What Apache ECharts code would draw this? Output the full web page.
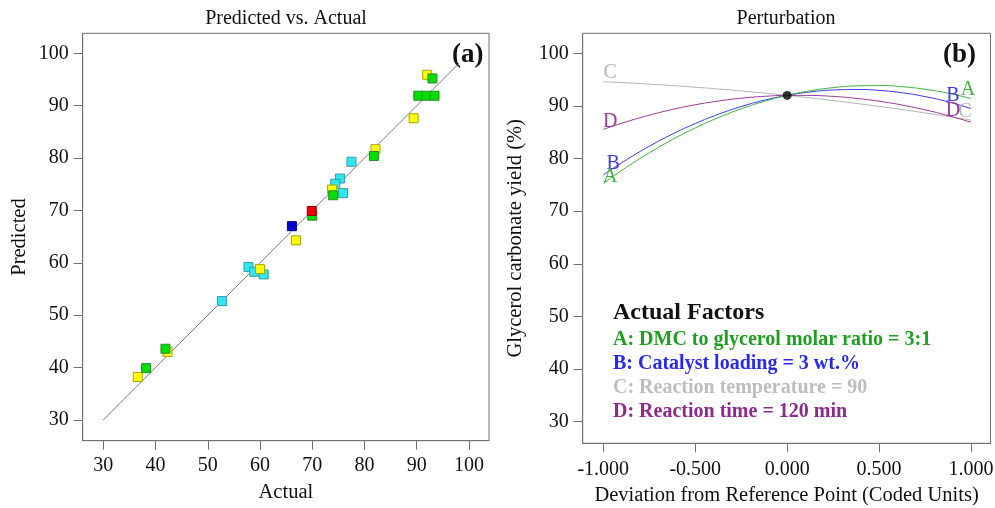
<!DOCTYPE html>
<html lang="en">
<head>
    <meta charset="utf-8">
    <title>Predicted vs. Actual / Perturbation</title>
    <script src="https://cdn.jsdelivr.net/npm/echarts@6/dist/echarts.min.js"></script>
    <style>
        html, body { margin: 0; padding: 0; background: #fff; }
        #main { width: 995px; height: 508px; }
    </style>
</head>
<body>
<div id="main"></div>
<script type="text/javascript">
// ---- data ----
// (a) predicted vs actual, grouped by point colour
var yellowPts = [[92.0, 95.9], [89.4, 87.6], [82.1, 81.7], [73.8, 74.0], [66.9, 64.3], [60.0, 58.8], [42.3, 43.0], [36.6, 38.2]];
var greenPts  = [[93.0, 95.2], [90.3, 91.9], [91.8, 91.9], [93.4, 91.9], [81.8, 80.4], [74.0, 72.9], [70.0, 69.0], [41.9, 43.6], [38.2, 39.9]];
var cyanPts   = [[77.5, 79.3], [75.3, 76.1], [74.4, 75.1], [75.9, 73.3], [57.8, 59.2], [58.9, 58.3], [60.7, 57.8], [52.7, 52.7]];
var bluePts   = [[66.1, 67.0]];
var redPts    = [[69.9, 69.9]];
var diagX     = [30, 98.2];   // y = x reference line
var axisTicksA = [30, 40, 50, 60, 70, 80, 90, 100];

// (b) perturbation curves
var coded  = [-1, -0.875, -0.75, -0.625, -0.5, -0.375, -0.25, -0.125, 0, 0.125, 0.25, 0.375, 0.5, 0.625, 0.75, 0.875, 1];
var curveA = [75.3, 78.33, 81.09, 83.59, 85.81, 87.77, 89.45, 90.86, 92.0, 92.87, 93.47, 93.80, 93.87, 93.65, 93.17, 92.42, 91.4];
var curveB = [76.9, 79.75, 82.33, 84.63, 86.65, 88.40, 89.88, 91.08, 92.0, 92.65, 93.03, 93.13, 92.95, 92.5, 91.78, 90.78, 89.5];
var curveC = [94.6, 94.39, 94.15, 93.87, 93.56, 93.22, 92.85, 92.44, 92.0, 91.53, 91.02, 90.48, 89.91, 89.31, 88.67, 88.0, 87.3];
var curveD = [85.54, 86.98, 88.24, 89.32, 90.22, 90.93, 91.47, 91.82, 92.0, 91.99, 91.81, 91.44, 90.9, 90.17, 89.26, 88.17, 86.9];
var refPoint = [0, 92];
var codedTicks = [-1, -0.5, 0, 0.5, 1];
var yieldTicks = [30, 40, 50, 60, 70, 80, 90, 100];

var factorLines = [
    'A: DMC to glycerol molar ratio = 3:1',
    'B: Catalyst loading = 3 wt.%',
    'C: Reaction temperature = 90',
    'D: Reaction time = 120 min'
];

var SERIF = '"Liberation Serif", "Times New Roman", serif';
var AXIS_COL = '#707070';

function axisBase(ticks, fmt) {
    return {
        axisLine: { show: true, onZero: false, lineStyle: { color: AXIS_COL, width: 1 } },
        axisTick: { show: true, inside: false, length: 9, customValues: ticks, lineStyle: { color: AXIS_COL } },
        axisLabel: { customValues: ticks, color: '#111', fontFamily: SERIF, fontSize: 20, formatter: fmt },
        splitLine: { show: false },
        nameTextStyle: { color: '#111', fontFamily: SERIF, fontSize: 20.5 }
    };
}

function withLabels(xs, ys, letter, first, last) {
    var out = [];
    for (var i = 0; i < xs.length; i++) {
        var item = { value: [xs[i], ys[i]] };
        if (i === 0 && first) {
            item.label = { show: true, formatter: letter, position: 'inside', offset: first };
        } else if (i === xs.length - 1 && last) {
            item.label = { show: true, formatter: letter, position: 'inside', offset: last };
        }
        out.push(item);
    }
    return out;
}

function curve(name, ys, color, first, last) {
    return {
        name: name, type: 'line', xAxisIndex: 1, yAxisIndex: 1,
        smooth: true, symbol: 'circle', symbolSize: 0, showSymbol: true,
        lineStyle: { color: color, width: 1 },
        itemStyle: { color: color },
        label: { color: color, fontFamily: SERIF, fontSize: 20, align: 'center', verticalAlign: 'middle' },
        emphasis: { disabled: true },
        data: withLabels(coded, ys, name, first, last),
        z: 3
    };
}

function scatter(pts, fill, border, z) {
    return {
        type: 'scatter', xAxisIndex: 0, yAxisIndex: 0,
        symbol: 'rect', symbolSize: 9,
        itemStyle: { color: fill, borderColor: border, borderWidth: 1, opacity: 1 },
        data: pts, z: z
    };
}

var chart = echarts.init(document.getElementById('main'), null, { renderer: 'canvas' });

var xA = axisBase(axisTicksA, function (v) { return v; });
xA.gridIndex = 0; xA.type = 'value'; xA.min = 26.06; xA.max = 103.83;
xA.name = 'Actual'; xA.nameLocation = 'middle'; xA.nameGap = 41;
xA.axisLabel.margin = 15;

var yA = axisBase(axisTicksA, function (v) { return v; });
yA.gridIndex = 0; yA.type = 'value'; yA.min = 26.05; yA.max = 103.82;
yA.name = 'Predicted'; yA.nameLocation = 'middle'; yA.nameGap = 53;
yA.axisLabel.margin = 14;

var xB = axisBase(codedTicks, function (v) { return v.toFixed(3); });
xB.gridIndex = 1; xB.type = 'value'; xB.min = -1.112; xB.max = 1.106;
xB.name = 'Deviation from Reference Point (Coded Units)'; xB.nameLocation = 'middle'; xB.nameGap = 42;
xB.axisLabel.margin = 16;

var yB = axisBase(yieldTicks, function (v) { return v; });
yB.gridIndex = 1; yB.type = 'value'; yB.min = 25.9; yB.max = 103.8;
yB.name = 'Glycerol carbonate yield (%)'; yB.nameLocation = 'middle'; yB.nameGap = 57;
yB.axisLabel.margin = 14;

var graphics = [
    { type: 'text', x: 286, y: 19, style: { text: 'Predicted vs. Actual', font: '20px ' + SERIF, fill: '#111', textAlign: 'center', textVerticalAlign: 'middle' } },
    { type: 'text', x: 786, y: 19, style: { text: 'Perturbation', font: '20px ' + SERIF, fill: '#111', textAlign: 'center', textVerticalAlign: 'middle' } },
    { type: 'text', x: 452, y: 55, style: { text: '(a)', font: 'bold 27px ' + SERIF, fill: '#111', textVerticalAlign: 'middle' } },
    { type: 'text', x: 943, y: 55, style: { text: '(b)', font: 'bold 27px ' + SERIF, fill: '#111', textVerticalAlign: 'middle' } },
    { type: 'text', x: 613, y: 313, style: { text: 'Actual Factors', font: 'bold 24px ' + SERIF, fill: '#111', textVerticalAlign: 'middle' } }
];
var factorColors = ['#1f9f1f', '#2a2aee', '#bdbdbd', '#8e2a8e'];
for (var i = 0; i < factorLines.length; i++) {
    graphics.push({
        type: 'text', x: 613, y: 340 + i * 24,
        style: { text: factorLines[i], font: 'bold 20px ' + SERIF, fill: factorColors[i], textVerticalAlign: 'middle' }
    });
}

chart.setOption({
    animation: false,
    backgroundColor: '#fff',
    grid: [
        { left: 82.7, top: 33.3, width: 406.3, height: 407.4, show: true, borderColor: AXIS_COL, borderWidth: 1,
          backgroundColor: 'transparent', containLabel: false, outerBoundsMode: 'none' },
        { left: 582.7, top: 33.3, width: 407.8, height: 410, show: true, borderColor: AXIS_COL, borderWidth: 1,
          backgroundColor: 'transparent', containLabel: false, outerBoundsMode: 'none' }
    ],
    xAxis: [xA, xB],
    yAxis: [yA, yB],
    graphic: graphics,
    series: [
        {
            type: 'line', xAxisIndex: 0, yAxisIndex: 0, symbol: 'none',
            lineStyle: { color: '#808080', width: 1 },
            data: [[diagX[0], diagX[0]], [diagX[1], diagX[1]]], z: 1
        },
        scatter(cyanPts, '#2ee8ee', '#3a98a8', 2),
        scatter(yellowPts, '#ffff00', '#a4a400', 3),
        scatter(greenPts, '#00e000', '#2a8a2a', 4),
        scatter(bluePts, '#0000d0', '#000080', 5),
        scatter(redPts, '#ee0000', '#900000', 6),
        curve('C', curveC, '#b4b4b4', [7, -9], [-6, -8]),
        curve('D', curveD, '#9a3a9a', [7, -8], [-18, -11]),
        curve('B', curveB, '#3a3aee', [10, -11], [-18, -13]),
        curve('A', curveA, '#3cb43c', [7, -7], [-3, -9]),
        {
            type: 'scatter', xAxisIndex: 1, yAxisIndex: 1, symbol: 'circle', symbolSize: 9,
            itemStyle: { color: '#000' }, data: [refPoint], z: 5
        }
    ]
});
</script>
</body>
</html>
